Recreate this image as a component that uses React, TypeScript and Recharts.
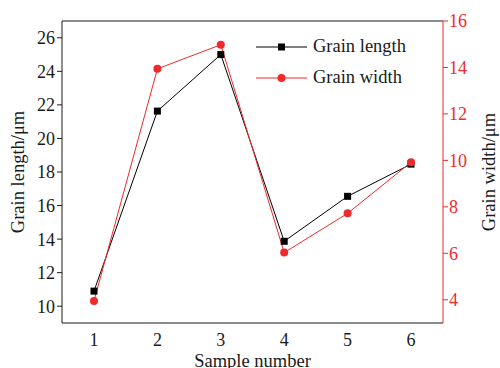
import React from "react";
import { LineChart, Line, XAxis, YAxis, Legend, ReferenceLine } from "recharts";

const samples = ["1", "2", "3", "4", "5", "6"];
const grainLength = [10.9, 21.63, 25.0, 13.87, 16.55, 18.47];
const grainWidth = [3.95, 13.94, 14.98, 6.03, 7.72, 9.92];
const lengthTicks = [10, 12, 14, 16, 18, 20, 22, 24, 26];
const widthTicks = [4, 6, 8, 10, 12, 14, 16];

const RED = "#ee2a2a";
const INK = "#1a1a1a";
const FONT = "'Liberation Serif', 'Times New Roman', serif";

const data = samples.map((s, i) => ({
  sample: s,
  length: grainLength[i],
  width: grainWidth[i],
}));

const Square = (props: any) => {
  const { cx, cy } = props;
  if (cx == null || cy == null) return null;
  return <rect x={cx - 3.5} y={cy - 3.5} width={7} height={7} fill="#000" />;
};

const Dot = (props: any) => {
  const { cx, cy } = props;
  if (cx == null || cy == null) return null;
  return <circle cx={cx} cy={cy} r={4} fill={RED} />;
};

const LegendBox = () => (
  <div style={{ fontFamily: FONT, fontSize: 18.5, lineHeight: "31px" }}>
    {[
      { name: "Grain length", color: "#000", square: true },
      { name: "Grain width", color: RED, square: false },
    ].map((it) => (
      <div key={it.name} style={{ display: "flex", alignItems: "center" }}>
        <svg width={57} height={12}>
          <line x1={0} y1={6} x2={51} y2={6} stroke={it.color} strokeWidth={1} />
          {it.square ? (
            <rect x={22} y={2.5} width={7} height={7} fill="#000" />
          ) : (
            <circle cx={25.5} cy={6} r={4} fill={RED} />
          )}
        </svg>
        <span style={{ color: INK }}>{it.name}</span>
      </div>
    ))}
  </div>
);

export default function App() {
  return (
    <div style={{ position: "absolute", left: 0, top: 0, background: "#fff" }}>
      <LineChart
        width={500}
        height={368}
        data={data}
        margin={{ top: 21, right: 0, left: 0, bottom: 0 }}
      >
        <XAxis
          dataKey="sample"
          padding={{ left: 32, right: 32 }}
          axisLine={{ stroke: INK }}
          tickLine={false}
          tickSize={0}
          tickMargin={10}
          height={45}
          tick={{ fill: INK, fontSize: 18, fontFamily: FONT }}
          label={{
            value: "Sample number",
            position: "insideBottom",
            offset: 1,
            fill: INK,
            fontSize: 18.5,
            fontFamily: FONT,
          }}
        />
        <YAxis
          yAxisId="left"
          domain={[9, 27]}
          ticks={lengthTicks}
          width={62}
          axisLine={{ stroke: INK }}
          tickLine={{ stroke: INK }}
          tickSize={5}
          tickMargin={2}
          tick={{ fill: INK, fontSize: 18, fontFamily: FONT }}
          label={{
            value: "Grain length/μm",
            angle: -90,
            position: "insideLeft",
            offset: 17,
            style: { textAnchor: "middle" },
            fill: INK,
            fontSize: 18.5,
            fontFamily: FONT,
          }}
        />
        <YAxis
          yAxisId="right"
          orientation="right"
          domain={[3, 16]}
          ticks={widthTicks}
          width={57}
          axisLine={{ stroke: RED }}
          tickLine={{ stroke: RED }}
          tickSize={5}
          tickMargin={1}
          tick={{ fill: RED, fontSize: 18, fontFamily: FONT }}
          label={{
            value: "Grain width/μm",
            angle: -90,
            position: "insideRight",
            offset: 12,
            style: { textAnchor: "middle" },
            fill: INK,
            fontSize: 18.5,
            fontFamily: FONT,
          }}
        />
        <ReferenceLine yAxisId="left" y={27} stroke={INK} />
        <Legend
          verticalAlign="middle"
          layout="horizontal"
          align="center"
          content={<LegendBox />}
          wrapperStyle={{ position: "absolute", left: 256, top: 31, width: 180 }}
        />
        <Line
          yAxisId="left"
          dataKey="length"
          name="Grain length"
          stroke="#000"
          strokeWidth={1}
          dot={<Square />}
          activeDot={false}
          isAnimationActive={false}
        />
        <Line
          yAxisId="right"
          dataKey="width"
          name="Grain width"
          stroke={RED}
          strokeWidth={1}
          dot={<Dot />}
          activeDot={false}
          isAnimationActive={false}
        />
      </LineChart>
    </div>
  );
}
